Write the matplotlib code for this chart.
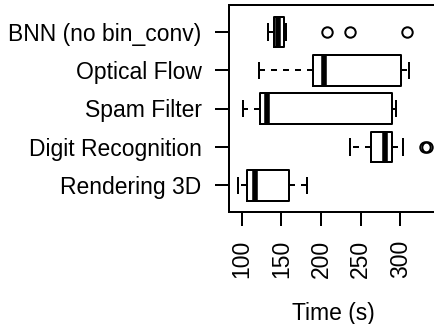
import matplotlib
matplotlib.use("Agg")
from matplotlib import pyplot as plt

# five-number summaries (bottom row first)
labels = ["Rendering 3D", "Digit Recognition", "Spam Filter", "Optical Flow", "BNN (no bin_conv)"]
whislo = [95.7, 236.6, 101.2, 121.8, 132.7]
q1 = [106.3, 262.6, 123.0, 190.5, 140.7]
med = [116.8, 280.7, 131.5, 204.0, 146.4]
q3 = [160.0, 289.9, 289.9, 301.0, 153.7]
whishi = [182.6, 303.8, 294.6, 311.0, 155.9]
fliers = [[], [331.8, 333.2], [], [], [207.0, 236.0, 308.6]]
xticks = [100, 150, 200, 250, 300]

plt.rcParams['font.family'] = ['Liberation Sans', 'DejaVu Sans']

stats = []
for i in range(len(labels)):
    stats.append(dict(label=labels[i], whislo=whislo[i], q1=q1[i], med=med[i],
                      q3=q3[i], whishi=whishi[i], fliers=fliers[i]))

fig = plt.figure(figsize=(4.35, 3.24), dpi=100)
# right edge of the plot box sits just past the image edge, as in the original
ax = fig.add_axes([229.3 / 435, 1 - 212 / 324, 208.3 / 435, 207 / 324])

lw = 1.44
ax.bxp(stats, orientation='horizontal', widths=0.8, capwidths=0.4,
       boxprops=dict(color='black', linewidth=lw),
       medianprops=dict(color='black', linewidth=4.0, solid_capstyle='butt'),
       whiskerprops=dict(color='black', linewidth=lw, linestyle=(0, (3, 3))),
       capprops=dict(color='black', linewidth=lw),
       flierprops=dict(marker='o', markerfacecolor='none', markeredgecolor='black',
                       markersize=7.5, markeredgewidth=lw))

ax.set_xlim(84.4, 84.4 + 208.3 / 0.793)
ax.set_ylim(0.3, 5.7)
ax.set_xticks(xticks)
ax.set_xticklabels([str(t) for t in xticks], rotation=90)
for s in ax.spines.values():
    s.set_linewidth(lw)
ax.tick_params(axis='both', which='major', labelsize=16.5, length=10, width=lw, pad=10)
ax.set_xlabel("Time (s)", fontsize=16.5, labelpad=17)

fig.savefig("out.png", dpi=100)
